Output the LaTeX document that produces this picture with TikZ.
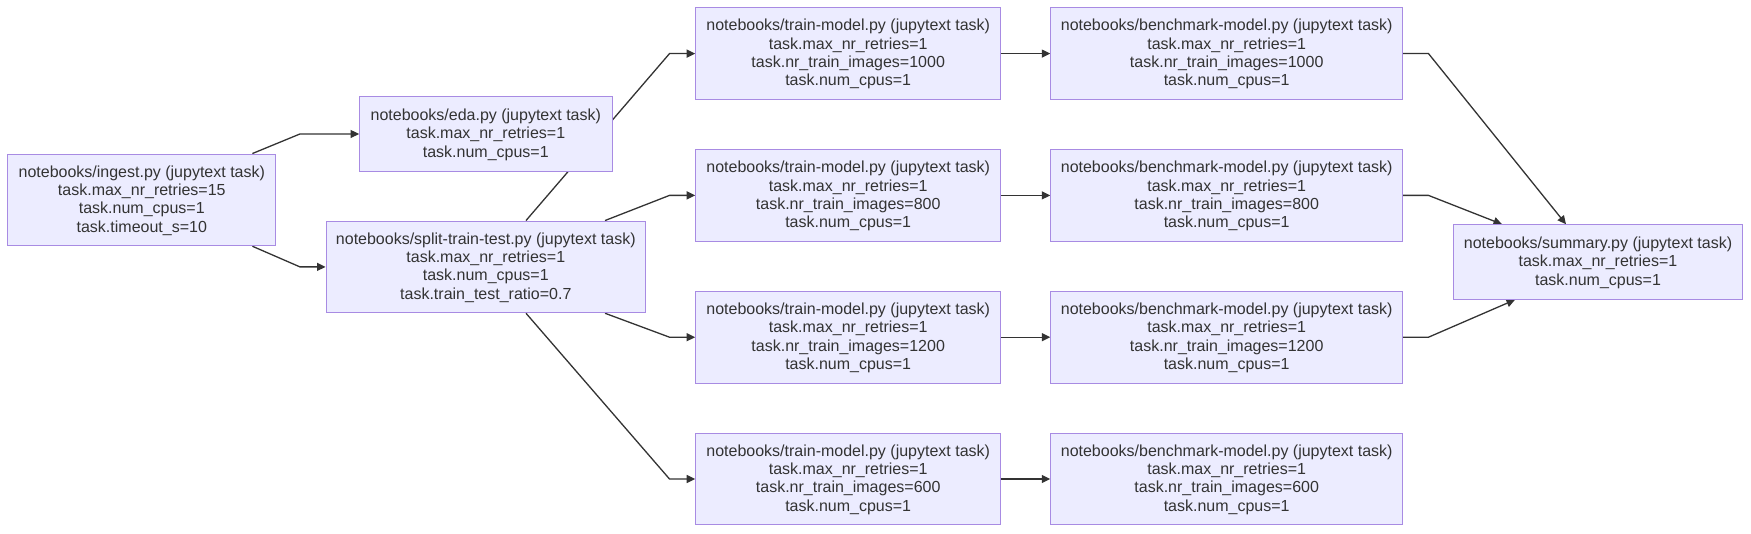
\documentclass[tikz,border=0pt]{standalone}
\usepackage{fontspec}
\setmainfont{Liberation Sans}
\usetikzlibrary{arrows.meta,calc}
\definecolor{boxfill}{HTML}{ECECFF}
\definecolor{boxline}{HTML}{A88BE3}
\definecolor{ink}{HTML}{333333}
\pgfdeclarelayer{background}
\pgfsetlayers{background,main}
\tikzset{
  task/.style={draw=boxline, fill=boxfill, line width=1pt, text=ink, align=center,
    inner sep=0pt, font=\fontsize{16}{18.3}\selectfont, minimum height=91.7pt,
    text depth=2pt},
  task3/.style={task, minimum height=74.5pt},
  edge/.style={draw=ink, line width=1.3pt, -{Triangle[length=8.5pt,width=8pt]}},
}
\begin{document}
\begin{tikzpicture}[x=1pt,y=-1pt]
\useasboundingbox (0,0) rectangle (1751,534);
\node[task, minimum width=268pt] (ingest) at (141.8,199.9) {notebooks/ingest.py (jupytext task)\\task.max\_nr\_retries=15\\task.num\_cpus=1\\task.timeout\_s=10};
\node[task3, minimum width=252.4pt] (eda) at (485.8,134) {notebooks/eda.py (jupytext task)\\task.max\_nr\_retries=1\\task.num\_cpus=1};
\node[task, minimum width=319.5pt] (split) at (485.8,266.9) {notebooks/split-train-test.py (jupytext task)\\task.max\_nr\_retries=1\\task.num\_cpus=1\\task.train\_test\_ratio=0.7};
\node[task, minimum width=305pt] (train1) at (848.2,53.6) {notebooks/train-model.py (jupytext task)\\task.max\_nr\_retries=1\\task.nr\_train\_images=1000\\task.num\_cpus=1};
\node[task, minimum width=305pt] (train2) at (848.2,195.4) {notebooks/train-model.py (jupytext task)\\task.max\_nr\_retries=1\\task.nr\_train\_images=800\\task.num\_cpus=1};
\node[task, minimum width=305pt] (train3) at (848.2,337.2) {notebooks/train-model.py (jupytext task)\\task.max\_nr\_retries=1\\task.nr\_train\_images=1200\\task.num\_cpus=1};
\node[task, minimum width=305pt] (train4) at (848.2,479) {notebooks/train-model.py (jupytext task)\\task.max\_nr\_retries=1\\task.nr\_train\_images=600\\task.num\_cpus=1};
\node[task, minimum width=351.8pt] (bench1) at (1226.7,53.6) {notebooks/benchmark-model.py (jupytext task)\\task.max\_nr\_retries=1\\task.nr\_train\_images=1000\\task.num\_cpus=1};
\node[task, minimum width=351.8pt] (bench2) at (1226.7,195.4) {notebooks/benchmark-model.py (jupytext task)\\task.max\_nr\_retries=1\\task.nr\_train\_images=800\\task.num\_cpus=1};
\node[task, minimum width=351.8pt] (bench3) at (1226.7,337.2) {notebooks/benchmark-model.py (jupytext task)\\task.max\_nr\_retries=1\\task.nr\_train\_images=1200\\task.num\_cpus=1};
\node[task, minimum width=351.8pt] (bench4) at (1226.7,479) {notebooks/benchmark-model.py (jupytext task)\\task.max\_nr\_retries=1\\task.nr\_train\_images=600\\task.num\_cpus=1};
\node[task3, minimum width=289pt] (summary) at (1598,262) {notebooks/summary.py (jupytext task)\\task.max\_nr\_retries=1\\task.num\_cpus=1};
\begin{pgfonlayer}{background}
\draw[edge] ([xshift=110.6pt]ingest.north) -- ([xshift=-59.2pt]eda.west) -- (eda.west);
\draw[edge] ([xshift=110.6pt]ingest.south) -- ([xshift=-25.6pt]split.west) -- (split.west);
\draw[edge] ([xshift=40.2pt]split.north) -- ([xshift=-25.7pt]train1.west) -- (train1.west);
\draw[edge] ([xshift=119.2pt]split.north) -- ([xshift=-25.7pt]train2.west) -- (train2.west);
\draw[edge] ([xshift=119.2pt]split.south) -- ([xshift=-25.7pt]train3.west) -- (train3.west);
\draw[edge] ([xshift=40.2pt]split.south) -- ([xshift=-25.7pt]train4.west) -- (train4.west);
\draw[edge] (train1.east) -- (bench1.west);
\draw[edge] (train2.east) -- (bench2.west);
\draw[edge] (train3.east) -- (bench3.west);
\draw[edge] (train4.east) -- (bench4.west);
\draw[edge] (bench1.east) -- ([xshift=25.4pt]bench1.east) -- ([xshift=-32pt]summary.north);
\draw[edge] (bench2.east) -- ([xshift=25.4pt]bench2.east) -- ([xshift=-96pt]summary.north);
\draw[edge] (bench3.east) -- ([xshift=25.4pt]bench3.east) -- ([xshift=-83pt]summary.south);
\end{pgfonlayer}
\end{tikzpicture}
\end{document}
